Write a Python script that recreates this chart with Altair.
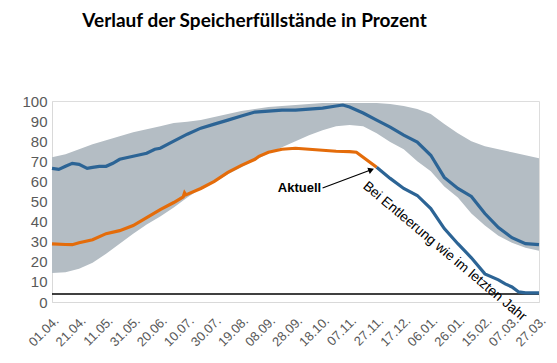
import json
import altair as alt
import pandas as pd

# ---------------- data ----------------
tick_days = [0, 20, 40, 60, 80, 100, 120, 140, 160, 180, 200, 220, 240, 260, 280, 300, 320, 340, 360]
tick_labels = ["01.04.", "21.04.", "11.05.", "31.05.", "20.06.", "10.07.", "30.07.", "19.08.",
               "08.09.", "28.09.", "18.10.", "07.11.", "27.11.", "17.12.", "06.01.", "26.01.",
               "15.02.", "07.03.", "27.03."]
y_ticks = [0, 10, 20, 30, 40, 50, 60, 70, 80, 90, 100]

band_days = [0, 10, 20, 30, 40, 50, 60, 70, 80, 90, 100, 110, 120, 130, 140, 150, 160, 170, 180,
             190, 200, 210, 220, 230, 240, 250, 260, 270, 280, 290, 300, 310, 320, 330, 340, 350, 360]
band_low = [14.4, 14.8, 16.5, 19.5, 24, 29, 34, 38.5, 42.5, 47, 52, 56.5, 59.5, 63.5, 67, 70.5,
            74, 77, 80, 83, 85.5, 87.5, 88, 87.5, 84, 79.6, 76, 70, 65, 57.5, 52, 44, 38, 33,
            29.5, 27, 25.5]
band_high = [72, 73.5, 76, 78.5, 80.5, 82.5, 84.5, 86, 87.5, 89, 89.7, 90.5, 92, 93.5, 95, 96,
             97, 97.5, 98, 98.5, 99, 99, 99, 99, 99, 98.5, 97.5, 96, 93.5, 88.5, 84, 80, 77.5,
             76, 74.5, 73, 71.5]

last_year_days = [0, 5, 10, 15, 20, 26, 30, 35, 40, 45, 50, 60, 70, 76, 80, 90, 100, 110, 120,
                  130, 140, 150, 160, 170, 180, 190, 200, 210, 215, 220, 230, 240, 250, 260, 270,
                  280, 290, 300, 310, 320, 330, 340, 350, 360]
last_year_vals = [66.5, 66, 67.5, 69, 68.5, 66.5, 67, 67.5, 67.5, 69, 71, 72.5, 74, 76, 76.5, 80,
                  83.5, 86.5, 88.5, 90.5, 92.5, 94.5, 95, 95.5, 95.5, 96, 96.5, 97.5, 98, 97, 94,
                  90.5, 87, 83, 79.6, 73, 62, 56.5, 52.5, 44, 37, 32, 29, 28.5]

current_days = [0, 10, 15, 20, 30, 40, 50, 60, 70, 80, 90, 97, 98, 99, 110, 120, 130, 140, 150,
                153, 160, 170, 180, 190, 200, 210, 220, 225, 240]
current_vals = [28.9, 28.6, 28.5, 29.5, 31, 34, 35.5, 38, 42, 46, 49.5, 52.3, 54.3, 53.3, 56.5, 60,
                64.5, 68, 71, 72.5, 74.5, 76, 76.5, 76, 75.5, 75, 74.8, 74.5, 67]

proj_days = [240, 250, 260, 270, 280, 290, 300, 310, 320, 330, 335, 340, 345, 350, 360]
proj_vals = [67, 61.5, 56.5, 53, 46.5, 36.5, 29, 22, 14, 11, 9, 7.5, 5, 4.5, 4.5]

threshold = 4
title_text = "Verlauf der Speicherfüllstände in Prozent"
label_current = "Aktuell"
label_proj = "Bei Entleerung wie im letzten Jahr"

# ---------------- styles ----------------
GRAY = "#b4bdc4"
BLUE = "#2c6495"
ORANGE = "#e46c0a"

xs = alt.Scale(domain=[0, 360], nice=False, zero=False)
ys = alt.Scale(domain=[0, 100], nice=False)

label_expr = json.dumps(tick_labels) + "[round(datum.value / 20)]"

x_axis = alt.Axis(values=tick_days, labelExpr=label_expr, labelAngle=-45, ticks=False,
                  grid=False, domainColor="#d9d9d9", labelColor="#595959", labelFontSize=13,
                  labelFont="Liberation Sans", labelPadding=12, labelOverlap=False,
                  labelBound=False, labelFlush=False, title=None)
y_axis = alt.Axis(values=y_ticks, ticks=False, grid=False,
                  domainColor="#d9d9d9", labelColor="#595959", labelFontSize=15,
                  labelFont="Liberation Sans", labelPadding=5, labelOverlap=False,
                  labelFlush=False, title=None)


def X(field):
    return alt.X(field, scale=xs, axis=x_axis)


def Y(field):
    return alt.Y(field, scale=ys, axis=y_axis)


band_df = pd.DataFrame({"day": band_days, "lo": band_low, "hi": band_high})
band = alt.Chart(band_df).mark_area(color=GRAY, opacity=1).encode(
    x=X("day:Q"), y=Y("lo:Q"), y2="hi:Q",
)

rule_df = pd.DataFrame({"d0": [tick_days[0]], "d1": [tick_days[-1]], "v": [threshold]})
rule = alt.Chart(rule_df).mark_rule(color="black", strokeWidth=1.5).encode(
    x=X("d0:Q"), x2="d1:Q", y=Y("v:Q")
)


def line(days, vals, color):
    df = pd.DataFrame({"day": days, "val": vals})
    return alt.Chart(df).mark_line(color=color, strokeWidth=3.2, interpolate="linear").encode(
        x=X("day:Q"), y=Y("val:Q")
    )


last_year = line(last_year_days, last_year_vals, BLUE)
current = line(current_days, current_vals, ORANGE)
proj = line(proj_days, proj_vals, BLUE)

# annotations
txt_df = pd.DataFrame({"day": [199.0], "val": [56.7], "t": [label_current]})
txt = alt.Chart(txt_df).mark_text(align="right", baseline="middle", font="Liberation Sans",
                                  fontWeight="bold", fontSize=13, color="black").encode(
    x=X("day:Q"), y=Y("val:Q"), text="t:N")

arrow_df = pd.DataFrame({"d0": [200.0], "v0": [56.7], "d1": [235.5], "v1": [65.7]})
arrow = alt.Chart(arrow_df).mark_rule(color="black", strokeWidth=1.2).encode(
    x=X("d0:Q"), y=Y("v0:Q"), x2="d1:Q", y2="v1:Q")

head_df = pd.DataFrame({"day": [236.0], "val": [65.8]})
head = alt.Chart(head_df).mark_point(shape="triangle-up", filled=True, color="black", size=45,
                                     angle=69, opacity=1).encode(
    x=X("day:Q"), y=Y("val:Q"))

ptxt_df = pd.DataFrame({"day": [234.5], "val": [61.2], "t": [label_proj]})
ptxt = alt.Chart(ptxt_df).mark_text(align="left", baseline="top", angle=40, font="Liberation Sans",
                                    fontSize=13.8, color="black").encode(
    x=X("day:Q"), y=Y("val:Q"), text="t:N")

chart = alt.layer(band, rule, last_year, current, proj, arrow, head, txt, ptxt).properties(
    width=487, height=201,
    autosize=alt.AutoSizeParams(type="none"),
    padding={"left": 44, "top": 93, "right": 10, "bottom": 53},
    title=alt.TitleParams(title_text, anchor="middle", dx=-41, offset=63, fontSize=19,
                          font="Lato", fontWeight="bold", color="black"),
).configure_view(stroke=None).configure(background="white")

chart.save("out.html", embed_options={"renderer": "svg", "actions": False})
